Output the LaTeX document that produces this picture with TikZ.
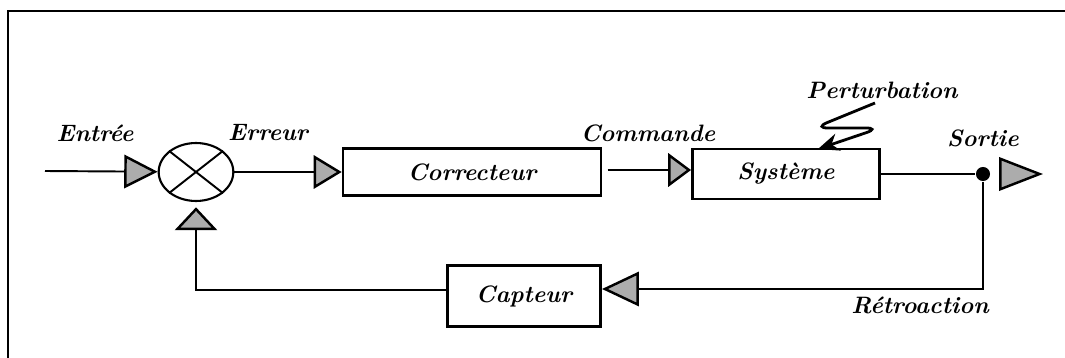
\documentclass[tikz,border=0pt]{standalone}
\usepackage{amssymb}
\usepackage{tikz}
\usetikzlibrary{calc,arrows.meta,shapes.geometric}

\begin{document}
\begin{tikzpicture}[x=0.02cm, y=-0.02cm, line width=1.1pt,
    every node/.style={font=\fontsize{13.5}{15}\selectfont\bfseries\itshape},
    bloc/.style={draw, line width=1.5pt, inner sep=0pt},
    grtri/.style 2 args={-{Triangle[length=#1,width=#2,fill=gray!65,line width=1.4pt]}}]
            \useasboundingbox (0,0) rectangle (1065,358);
            \draw [line width=1.3pt] (8,358) -- (8,11) -- (1065,11);

            \coordinate (inp) at (45,171);
            \node [draw, ellipse, line width=1.2pt, inner sep=0pt, minimum width=42.5pt, minimum height=33pt] (sum) at (196,172) {};
            \draw (sum.north east) -- (sum.south west);
            \draw (sum.north west) -- (sum.south east);
            \node [bloc, minimum width=146.8pt, minimum height=26.6pt] (corr) at (472,172) {Correcteur};
            \node [bloc, minimum width=106.6pt, minimum height=28.3pt] (sys) at (786,174) {Système};
            \node [bloc, minimum width=87.3pt, minimum height=34.6pt] (capt) at (524,296) {Capteur};
            \node [circle, fill=black, inner sep=0pt, minimum size=8pt] (dot) at (983,174) {};
            \coordinate (out) at (1043,174);
            \coordinate (pert) at (875,103);

            \draw [grtri={19pt}{19pt}] (inp) -- (sum);
            \draw [grtri={16pt}{19pt}] (sum) -- (corr);
            \draw [grtri={13pt}{19pt}, shorten <=3pt] (corr.east |- 0,170) -- (sys.west |- 0,170);
            \draw (sys.east) -- (dot);
            \draw [grtri={25pt}{19pt}, shorten <=5pt] (dot) -- (out);
            \draw [grtri={21pt}{19.5pt}] (dot) |- (capt.east |- 0,289);
            \draw [grtri={13pt}{24pt}, shorten >=3pt] (capt.west |- 0,290) -| (sum.south);
            \draw [line width=1.6pt, rounded corners=8pt, -{Stealth[length=12pt,width=10pt]}] (pert) -- (814,128) -- (880,128) -- (818,149);

            \node at (95,133) {Entrée};
            \node at (268,133) {Erreur};
            \node at (648,133) {Commande};
            \node at (882,90) {Perturbation};
            \node at (983,138) {Sortie};
            \node at (920,305) {Rétroaction};

        \end{tikzpicture}
\end{document}
